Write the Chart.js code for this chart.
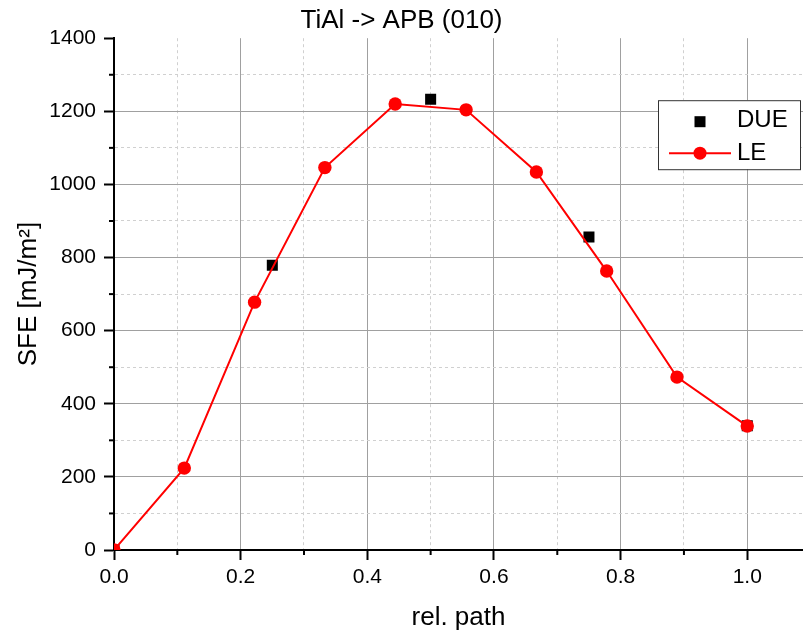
<!DOCTYPE html>
<html>
<head>
<meta charset="utf-8">
<script src="https://cdn.jsdelivr.net/npm/chart.js@4.4.1/dist/chart.umd.min.js"></script>
<style>
  html, body { margin: 0; padding: 0; background: #fff; }
</style>
</head>
<body>
<canvas id="chart" width="803" height="635"></canvas>
<script>
// Data
const pathLE = [0, 0.111, 0.222, 0.333, 0.444, 0.556, 0.667, 0.778, 0.889, 1.0];
const sfeLE = [0, 224, 678, 1046, 1220, 1204, 1034, 763, 473, 339];
const pathDUE = [0, 0.25, 0.5, 0.75, 1.0];
const sfeDUE = [0, 779, 1233, 856, 340];
const xTicks = [0.0, 0.2, 0.4, 0.6, 0.8, 1.0];
const xMinorTicks = [0.1, 0.3, 0.5, 0.7, 0.9];
const yTicks = [0, 200, 400, 600, 800, 1000, 1200, 1400];

const FONT = "'Liberation Sans', Arial, sans-serif";
Chart.defaults.font.family = FONT;
Chart.defaults.color = "#000";

function isMajorX(v) { return xTicks.some(t => Math.abs(t - v) < 1e-6); }
function isMajorY(v) { return yTicks.includes(Math.round(v)); }

// Short minor tick marks outside the axes
const minorTicks = {
  id: "minorTicks",
  afterDraw(chart) {
    const ctx = chart.ctx;
    const xs = chart.scales.x, ys = chart.scales.y;
    const area = chart.chartArea;
    ctx.save();
    ctx.strokeStyle = "#000";
    ctx.lineWidth = 2;
    xs.ticks.forEach(t => {
      if (isMajorX(t.value)) return;
      const px = xs.getPixelForValue(t.value);
      ctx.beginPath(); ctx.moveTo(px, area.bottom); ctx.lineTo(px, area.bottom + 5); ctx.stroke();
    });
    ys.ticks.forEach(t => {
      if (isMajorY(t.value)) return;
      const py = ys.getPixelForValue(t.value);
      ctx.beginPath(); ctx.moveTo(area.left, py); ctx.lineTo(area.left - 5, py); ctx.stroke();
    });
    ctx.restore();
  }
};

// Boxed legend inside the plot, upper right
const boxLegend = {
  id: "boxLegend",
  afterDraw(chart) {
    const ctx = chart.ctx;
    const a = chart.chartArea;
    const x0 = a.right - 145, y0 = a.top + 62, w = 142, h = 69;
    ctx.save();
    ctx.fillStyle = "#fff";
    ctx.fillRect(x0, y0, w, h);
    ctx.strokeStyle = "#333";
    ctx.lineWidth = 1;
    ctx.strokeRect(x0 + 0.5, y0 + 0.5, w, h);

    const mx = x0 + 42;
    // DUE
    ctx.fillStyle = "#000";
    ctx.fillRect(mx - 5.5, y0 + 16, 11, 11);
    // LE
    ctx.strokeStyle = "#ff0000";
    ctx.lineWidth = 2;
    ctx.beginPath(); ctx.moveTo(x0 + 11, y0 + 53); ctx.lineTo(x0 + 73, y0 + 53); ctx.stroke();
    ctx.fillStyle = "#ff0000";
    ctx.beginPath(); ctx.arc(mx, y0 + 53, 6.5, 0, Math.PI * 2); ctx.fill();

    ctx.fillStyle = "#000";
    ctx.font = "24px " + FONT;
    ctx.textBaseline = "middle";
    ctx.textAlign = "left";
    ctx.fillText("DUE", x0 + 79, y0 + 20);
    ctx.fillText("LE", x0 + 79, y0 + 53);
    ctx.restore();
  }
};

new Chart(document.getElementById("chart"), {
  type: "line",
  data: {
    datasets: [
      {
        label: "LE",
        data: pathLE.map((x, i) => ({ x: x, y: sfeLE[i] })),
        borderColor: "#ff0000",
        backgroundColor: "#ff0000",
        borderWidth: 2,
        pointRadius: 6.7,
        pointBorderWidth: 0,
        pointBackgroundColor: "#ff0000",
        tension: 0,
        clip: 0,
        order: 0
      },
      {
        label: "DUE",
        data: pathDUE.map((x, i) => ({ x: x, y: sfeDUE[i] })),
        showLine: false,
        pointStyle: "rect",
        pointRadius: 7.8,
        pointBorderWidth: 0,
        pointBackgroundColor: "#000",
        clip: 0,
        order: 1
      }
    ]
  },
  options: {
    responsive: false,
    animation: false,
    layout: { padding: 0, autoPadding: false },
    plugins: {
      legend: { display: false },
      tooltip: { enabled: false },
      title: {
        display: true,
        text: "TiAl -> APB (010)",
        color: "#000",
        font: { size: 26, weight: "normal" },
        padding: { top: 5, bottom: 2 }
      }
    },
    scales: {
      x: {
        type: "linear",
        min: 0,
        max: 1.088,
        afterBuildTicks: s => {
          s.ticks = xTicks.concat(xMinorTicks).sort((a, b) => a - b).map(v => ({ value: v }));
        },
        afterFit: s => { s.height = 85; s.paddingRight = 0; s.paddingLeft = 0; },
        ticks: {
          autoSkip: false,
          maxRotation: 0,
          padding: 5,
          font: { size: 21 },
          callback: v => isMajorX(v) ? v.toFixed(1) : ""
        },
        grid: {
          lineWidth: 1,
          color: c => isMajorX(c.tick.value) ? "#a0a0a0" : "#d0d0d0",
          tickLength: 10,
          tickWidth: 2,
          tickColor: c => isMajorX(c.tick.value) ? "#000" : "rgba(0,0,0,0)"
        },
        border: {
          color: "#000",
          width: 2,
          dash: c => (c.tick && !isMajorX(c.tick.value)) ? [3, 3] : []
        },
        title: {
          display: true,
          text: "rel. path",
          font: { size: 26 },
          padding: { top: 4, bottom: 2 }
        }
      },
      y: {
        min: 0,
        max: 1400,
        afterFit: s => { s.width = 114; },
        ticks: {
          stepSize: 100,
          autoSkip: false,
          padding: 8,
          font: { size: 21 },
          callback: v => isMajorY(v) ? v : ""
        },
        grid: {
          lineWidth: 1,
          color: c => c.tick.value >= 1400 ? "rgba(0,0,0,0)" : (isMajorY(c.tick.value) ? "#a0a0a0" : "#d0d0d0"),
          tickLength: 10,
          tickWidth: 2,
          tickColor: c => isMajorY(c.tick.value) ? "#000" : "rgba(0,0,0,0)"
        },
        border: {
          color: "#000",
          width: 2,
          dash: c => (c.tick && !isMajorY(c.tick.value)) ? [3, 3] : []
        },
        title: {
          display: true,
          text: "SFE [mJ/m²]",
          font: { size: 26 },
          padding: { top: 13, bottom: 0 }
        }
      }
    }
  },
  plugins: [minorTicks, boxLegend]
});
</script>
</body>
</html>
